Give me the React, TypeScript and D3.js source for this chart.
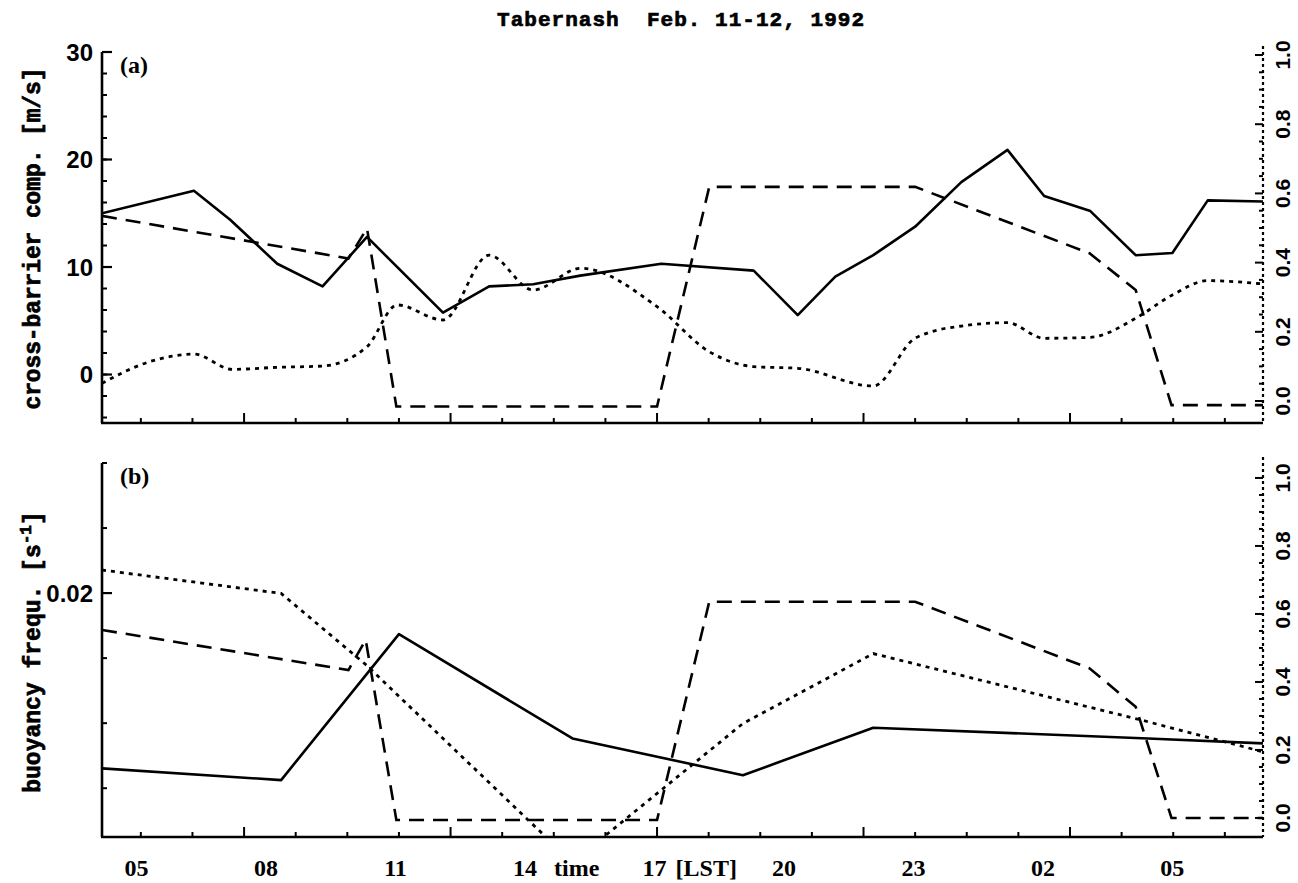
import * as d3 from "d3";

const W = 1298;
const H = 883;
const X0 = 102;
const X1 = 1263;

// time axis in hours LST from 00 Feb 11 (values > 24 are Feb 12)
const timeDomain: [number, number] = [4.2, 31.1];
const timeLabels = ["05", "08", "11", "14", "17", "20", "23", "02", "05"];
const timeLabelHours = [5, 8, 11, 14, 17, 20, 23, 26, 29];
const timeTickStart = 5.1;
const timeTickStep = 1.196;
const timeTickCount = 22;

// (a) cross-barrier component [m/s]
const aSolidHours = [4.2, 6.33, 7.17, 8.26, 9.31, 10.34, 12.1, 13.17, 14.19, 15.28, 17.16, 19.3, 20.32, 21.19, 22.07, 23.04, 24.11, 25.18, 26.03, 27.1, 28.15, 29.0, 29.82, 31.1];
const aSolidValues = [15.0, 17.1, 14.4, 10.3, 8.2, 12.8, 5.75, 8.2, 8.4, 9.2, 10.3, 9.66, 5.53, 9.1, 11.1, 13.75, 17.9, 20.9, 16.6, 15.2, 11.1, 11.3, 16.2, 16.1];
const aDottedHours = [4.2, 5.3, 6.33, 7.22, 8.26, 9.31, 10.34, 11.04, 12.1, 13.17, 14.19, 15.29, 17.06, 18.27, 19.3, 20.32, 22.07, 23.04, 24.11, 25.18, 26.03, 27.1, 28.15, 29.0, 29.82, 31.1];
const aDottedValues = [-0.82, 1.19, 1.9, 0.48, 0.67, 0.79, 2.59, 6.47, 5.07, 11.1, 7.86, 9.88, 6.31, 2.12, 0.73, 0.58, -1.07, 3.37, 4.51, 4.82, 3.37, 3.46, 5.23, 7.4, 8.73, 8.42];
const aDashedHours = [4.2, 9.91, 10.34, 11.02, 17.06, 18.27, 23.04, 27.08, 28.15, 28.98, 31.1];
const aDashedValues = [0.535, 0.412, 0.499, -0.016, -0.016, 0.619, 0.619, 0.427, 0.321, -0.012, -0.012];

// (b) buoyancy frequency [1/s]
const bSolidHours = [4.2, 8.35, 11.08, 15.1, 19.05, 22.07, 28.44, 31.1];
const bSolidValues = [0.01461, 0.01425, 0.01874, 0.01553, 0.0144, 0.01586, 0.01553, 0.01538];
const bDottedHours = [4.2, 8.35, 10.33, 15.1, 19.05, 22.07, 28.3, 31.1];
const bDottedValues = [0.02071, 0.01999, 0.01778, 0.01172, 0.01599, 0.01814, 0.01609, 0.01512];
const bDashedHours = [4.2, 9.91, 10.31, 11.02, 17.06, 18.27, 23.04, 27.08, 28.15, 28.98, 31.1];
const bDashedValues = [0.553, 0.435, 0.524, -0.006, -0.006, 0.636, 0.636, 0.44, 0.327, 0, 0];

const rightTickLabels = [0, 0.2, 0.4, 0.6, 0.8, 1.0];

const x = d3.scaleLinear().domain(timeDomain).range([X0, X1]);
const zip = (hs: number[], vs: number[]) => hs.map((h, i) => [h, vs[i]] as [number, number]);

const SANS = "'Liberation Sans', Arial, sans-serif";
const SERIF = "'Liberation Serif', 'Times New Roman', serif";
const MONO = "'Liberation Mono', 'DejaVu Sans Mono', monospace";

interface PanelProps {
  id: string;
  top: number;
  bottom: number;
  yLeft: d3.ScaleLinear<number, number>;
  yRight: d3.ScaleLinear<number, number>;
  leftMajor: number[];
  leftMinor: number[];
  leftFormat: (v: number) => string;
  tag: string;
  solid: [number, number][];
  dotted: [number, number][];
  dashed: [number, number][];
  dottedCurve: d3.CurveFactory;
}

function Panel(p: PanelProps) {
  const lineL = d3
    .line<[number, number]>()
    .x((d) => x(d[0]))
    .y((d) => p.yLeft(d[1]));
  const lineR = d3
    .line<[number, number]>()
    .x((d) => x(d[0]))
    .y((d) => p.yRight(d[1]));
  const dottedLine = d3
    .line<[number, number]>()
    .x((d) => x(d[0]))
    .y((d) => p.yLeft(d[1]))
    .curve(p.dottedCurve);
  const xTicks = d3.range(timeTickCount).map((k) => timeTickStart + k * timeTickStep);
  const rightMinor = d3.range(0, 21).map((k) => k * 0.05);

  return (
    <g>
      <defs>
        <clipPath id={p.id}>
          <rect x={X0} y={p.top} width={X1 - X0} height={p.bottom - p.top} />
        </clipPath>
      </defs>

      {/* data */}
      <g clipPath={`url(#${p.id})`} fill="none" stroke="#000">
        <path d={lineR(p.dashed) || ""} strokeWidth={2.6} strokeDasharray="15 9" />
        <path d={dottedLine(p.dotted) || ""} strokeWidth={2.8} strokeDasharray="4 5" />
        <path d={lineL(p.solid) || ""} strokeWidth={2.6} strokeLinejoin="round" />
      </g>

      {/* left axis */}
      <line x1={X0} x2={X0} y1={p.top} y2={p.bottom} stroke="#000" strokeWidth={2.6} />
      {p.leftMinor.map((v, i) => (
        <line key={`lm${i}`} x1={X0} x2={X0 + 5} y1={p.yLeft(v)} y2={p.yLeft(v)} stroke="#000" strokeWidth={2} />
      ))}
      {p.leftMajor.map((v, i) => (
        <g key={`lM${i}`}>
          <line x1={X0} x2={X0 + 10} y1={p.yLeft(v)} y2={p.yLeft(v)} stroke="#000" strokeWidth={2.2} />
          <text x={X0 - 9} y={p.yLeft(v)} dy="0.36em" textAnchor="end" fontFamily={SANS} fontWeight="bold" fontSize={24}>
            {p.leftFormat(v)}
          </text>
        </g>
      ))}

      {/* bottom axis */}
      <line x1={X0 - 1} x2={X1} y1={p.bottom} y2={p.bottom} stroke="#000" strokeWidth={2.6} />
      {xTicks.map((h, k) => (
        <line key={`xt${k}`} x1={x(h)} x2={x(h)} y1={p.bottom} y2={p.bottom - (k % 4 === 2 ? 10 : 5)} stroke="#000" strokeWidth={2} />
      ))}

      {/* right axis */}
      <line x1={X1} x2={X1} y1={p.top - 6} y2={p.bottom} stroke="#000" strokeWidth={2.2} strokeDasharray="3 3" />
      {rightMinor.map((v, i) => (
        <line key={`rm${i}`} x1={X1} x2={X1 - (i % 4 === 0 ? 8 : 4)} y1={p.yRight(v)} y2={p.yRight(v)} stroke="#000" strokeWidth={2} />
      ))}
      {rightTickLabels.map((v, i) => (
        <text
          key={`rl${i}`}
          transform={`translate(${X1 + 19},${p.yRight(v)}) rotate(-90)`}
          textAnchor="middle"
          dy="0.36em"
          fontFamily={SANS}
          fontWeight="bold"
          fontSize={21}
        >
          {d3.format(".1f")(v)}
        </text>
      ))}

      <text x={X0 + 18} y={p.top + 21} fontFamily={SERIF} fontWeight="bold" fontSize={24}>
        {p.tag}
      </text>
    </g>
  );
}

export default function App() {
  const topA = 52;
  const bottomA = 423;
  const topB = 463;
  const bottomB = 837;

  const yA = d3.scaleLinear().domain([-4.51, 30]).range([bottomA, topA]);
  const yAR = d3.scaleLinear().domain([-0.0636, 1.0087]).range([bottomA, topA]);
  const yB = d3.scaleLinear().domain([0.0125, 0.024]).range([bottomB, topB]);
  const yBR = d3.scaleLinear().domain([-0.056, 1.044]).range([bottomB, topB]);

  return (
    <svg width={W} height={H} style={{ position: "absolute", left: 0, top: 0, background: "#fff" }}>
      <rect width={W} height={H} fill="#fff" />
      <text
        x={497}
        y={26}
        textLength={367}
        lengthAdjust="spacing"
        fontFamily={MONO}
        fontWeight="bold"
        fontSize={21}
        stroke="#000"
        strokeWidth={0.7}
        style={{ whiteSpace: "pre" }}
      >
        {"Tabernash  Feb. 11-12, 1992"}
      </text>

      <Panel
        id="clipA"
        top={topA}
        bottom={bottomA}
        yLeft={yA}
        yRight={yAR}
        leftMajor={[0, 10, 20, 30]}
        leftMinor={d3.range(-4, 30, 2)}
        leftFormat={(v) => String(v)}
        tag="(a)"
        solid={zip(aSolidHours, aSolidValues)}
        dotted={zip(aDottedHours, aDottedValues)}
        dashed={zip(aDashedHours, aDashedValues)}
        dottedCurve={d3.curveMonotoneX}
      />
      <Panel
        id="clipB"
        top={topB}
        bottom={bottomB}
        yLeft={yB}
        yRight={yBR}
        leftMajor={[0.02]}
        leftMinor={[0.014, 0.016, 0.018, 0.022, 0.024]}
        leftFormat={(v) => String(v)}
        tag="(b)"
        solid={zip(bSolidHours, bSolidValues)}
        dotted={zip(bDottedHours, bDottedValues)}
        dashed={zip(bDashedHours, bDashedValues)}
        dottedCurve={d3.curveLinear}
      />

      {/* y titles */}
      <text
        transform={`translate(33,${(topA + bottomA) / 2 + 1}) rotate(-90)`}
        textAnchor="middle"
        dy="0.32em"
        textLength={342}
        lengthAdjust="spacing"
        fontFamily={MONO}
        fontWeight="bold"
        fontSize={23}
        stroke="#000"
        strokeWidth={0.7}
      >
        cross-barrier comp. [m/s]
      </text>
      <text
        transform={`translate(33,652) rotate(-90)`}
        textAnchor="middle"
        dy="0.32em"
        fontFamily={MONO}
        fontWeight="bold"
        fontSize={23}
        stroke="#000"
        strokeWidth={0.7}
      >
        buoyancy frequ. [s
        <tspan fontSize={16} dy="-9">-1</tspan>
        <tspan dy="9">]</tspan>
      </text>

      {/* time labels */}
      {timeLabels.map((t, i) => (
        <text key={`tl${i}`} x={x(timeLabelHours[i])} y={876} textAnchor="middle" fontFamily={SERIF} fontWeight="bold" fontSize={24}>
          {t}
        </text>
      ))}
      <text x={x(15.2)} y={876} textAnchor="middle" fontFamily={SERIF} fontWeight="bold" fontSize={24}>
        time
      </text>
      <text x={x(18.2)} y={876} textAnchor="middle" fontFamily={SERIF} fontWeight="bold" fontSize={24}>
        [LST]
      </text>
    </svg>
  );
}
